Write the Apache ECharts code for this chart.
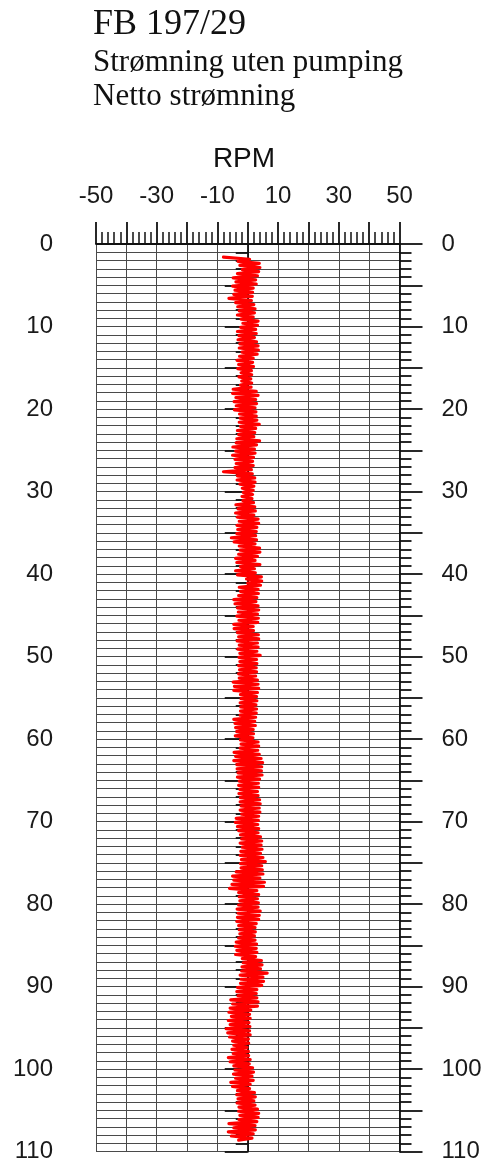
<!DOCTYPE html>
<html>
<head>
<meta charset="utf-8">
<script src="https://cdn.jsdelivr.net/npm/echarts@6/dist/echarts.min.js"></script>
<style>
html,body{margin:0;padding:0;background:#fff;}
#chart{width:488px;height:1164px;}
</style>
</head>
<body>
<div id="chart"></div>
<script>
// ---- texts ----
const titleLines = ["FB 197/29", "Strømning uten pumping", "Netto strømning"];
const xAxisName = "RPM";
const xTickLabels = [-50, -30, -10, 10, 30, 50];
const depthTickLabels = [0, 10, 20, 30, 40, 50, 60, 70, 80, 90, 100, 110];

// ---- data: RPM readings, depth (m) starts at depthStart, logged every depthStep ----
const depthStart = 1.6;
const depthStep = 0.25;
const rpm = [
  -8.0, 0.6, -3.2, 3.8, -2.6, 4.0, -1.8, 3.6, -3.4, 3.2, -4.8, 2.6, -3.9, 2.8, -5.0, 1.8, -4.2, 1.6, -4.6, 1.5,
  -6.2, 1.2, -4.0, 2.0, -3.3, 2.4, -2.8, 2.2, -3.4, 1.8, -2.2, 3.4, -1.6, 3.2, -2.3, 2.6, -3.4, 2.8, -2.9, 2.2,
  -3.2, 2.9, -2.6, 3.4, -2.8, 3.5, -1.9, 3.1, -2.7, 1.8, -3.5, 1.6, -3.0, 1.9, -3.3, 1.2, -2.2, 1.3, -2.9, 1.0,
  -2.0, 1.3, -2.4, 1.1, -4.8, 2.8, -5.0, 3.4, -3.9, 2.6, -4.5, 2.9, -3.8, 2.4, -4.4, 2.7, -2.7, 2.8, -2.5, 3.0,
  -2.8, 3.8, -2.4, 2.6, -3.4, 2.3, -3.0, 2.0, -3.6, 3.9, -3.8, 2.9, -4.9, 2.2, -4.0, 2.4, -5.0, 1.9, -4.2, 1.6,
  -3.8, 1.8, -4.2, 1.2, -8.0, 1.5, -3.4, 2.3, -3.5, 2.4, -2.6, 2.0, -1.8, 1.8, -1.5, 1.6, -1.9, 1.4, -1.6, 1.9,
  -3.9, 2.3, -3.2, 2.5, -4.0, 2.0, -3.4, 3.4, -2.8, 3.6, -3.5, 3.0, -3.3, 2.8, -3.6, 2.6, -5.4, 2.9, -4.5, 2.4,
  -2.8, 3.9, -2.5, 4.0, -3.0, 3.2, -4.0, 2.4, -3.6, 4.0, -2.4, 2.2, -4.0, 2.5, -3.4, 4.5, -0.4, 4.6, 0.0, 4.2,
  -2.8, 3.4, -2.4, 3.5, -3.0, 3.0, -4.6, 2.7, -4.2, 3.4, -3.4, 3.6, -3.1, 3.2, -3.6, 3.5, -2.9, 3.3, -4.6, 1.8,
  -4.5, 1.9, -3.4, 3.5, -3.0, 3.6, -3.5, 3.2, -2.8, 3.4, -3.3, 3.0, -2.6, 4.1, -2.9, 2.9, -2.6, 3.0, -3.0, 2.8,
  -2.7, 2.9, -3.0, 2.6, -2.8, 3.2, -4.8, 3.4, -4.4, 3.6, -4.6, 3.2, -2.4, 2.9, -2.2, 3.0, -2.5, 2.7, -2.3, 2.9,
  -2.4, 2.8, -2.5, 2.6, -4.6, 2.3, -4.2, 2.5, -4.0, 1.8, -3.6, 1.9, -4.1, 1.7, -2.4, 3.4, -2.2, 3.6, -2.5, 3.3,
  -4.5, 3.8, -4.0, 4.4, -4.6, 4.9, -3.6, 4.6, -3.5, 4.5, -3.2, 4.7, -3.4, 3.9, -2.8, 3.5, -3.0, 3.6, -2.6, 3.2,
  -2.9, 3.4, -2.4, 3.9, -2.5, 4.1, -2.2, 3.8, -2.5, 4.0, -2.0, 3.6, -3.8, 3.5, -4.1, 3.3, -3.4, 3.6, -3.0, 3.4,
  -2.4, 4.2, -2.0, 4.6, -2.5, 4.4, -1.8, 4.7, -2.3, 4.2, -2.5, 5.0, -2.1, 5.8, -2.4, 4.6, -2.2, 4.8, -3.8, 5.0,
  -5.0, 4.0, -4.6, 5.5, -5.2, 5.2, -6.0, 3.0, -3.0, 3.6, -2.8, 3.2, -2.6, 3.5, -3.0, 3.4, -3.5, 4.1, -3.2, 3.8,
  -3.4, 3.6, -3.6, 2.8, -3.0, 2.4, -2.8, 2.5, -2.6, 2.2, -3.0, 2.4, -3.8, 2.9, -4.1, 2.8, -3.6, 3.0, -4.0, 2.6,
  -1.8, 4.5, -1.5, 4.7, -1.9, 4.2, -2.0, 6.4, -2.5, 5.0, -2.2, 5.2, -2.4, 4.6, -3.4, 3.0, -3.6, 2.8, -3.2, 3.0,
  -5.6, 3.4, -5.0, 3.2, -5.8, 1.0, -6.2, 0.6, -5.4, 0.8, -6.4, 0.4, -5.8, 0.7, -7.1, 0.6, -6.6, 0.8, -6.0, 0.2,
  -5.0, 0.3, -4.6, -0.2, -5.2, 0.2, -4.8, 0.3, -6.4, 0.8, -5.8, 0.5, -4.6, 1.6, -4.2, 1.9, -4.7, 1.4, -4.0, 1.8,
  -5.6, 0.8, -5.0, 0.6, -3.4, 2.2, -3.6, 2.5, -3.2, 2.0, -3.5, 2.4, -2.9, 3.2, -3.0, 3.6, -2.6, 3.4, -2.9, 3.0,
  -6.2, 2.4, -4.6, 2.5, -6.4, 1.8, -5.4, 1.4, -3.0
];

const seriesData = rpm.map((v, i) => [v, +(depthStart + i * depthStep).toFixed(2)]);

const sans = "'Liberation Sans', Arial, sans-serif";
const serif = "'Liberation Serif', 'Times New Roman', serif";

const chart = echarts.init(document.getElementById('chart'), null, {renderer: 'canvas'});

const yAxisCommon = {
  type: 'value', inverse: true, min: 0, max: 110, interval: 5,
  axisLine: {show: true, lineStyle: {color: '#111', width: 1.8}},
  axisTick: {show: true, length: 23, lineStyle: {color: '#111', width: 1.8}},
  minorTick: {show: true, splitNumber: 5, length: 12, lineStyle: {color: '#111', width: 1.8}},
  axisLabel: {
    fontSize: 24, fontFamily: sans, color: '#1a1a1a', margin: 43,
    formatter: v => depthTickLabels.includes(v) ? String(v) : ''
  }
};

chart.setOption({
  animation: false,
  backgroundColor: '#fff',
  grid: {left: 96, top: 244, width: 303.5, height: 907.7, containLabel: false, outerBoundsMode: 'none'},
  graphic: [
    {type: 'text', style: {text: titleLines[0], x: 93, y: 25, font: `36px ${serif}`, fill: '#111', textAlign: 'left', textVerticalAlign: 'middle'}},
    {type: 'text', style: {text: titleLines[1], x: 93, y: 63, font: `31px ${serif}`, fill: '#111', textAlign: 'left', textVerticalAlign: 'middle'}},
    {type: 'text', style: {text: titleLines[2], x: 93, y: 97, font: `31px ${serif}`, fill: '#111', textAlign: 'left', textVerticalAlign: 'middle'}},
    {type: 'text', style: {text: xAxisName, x: 244, y: 159, font: `28px ${sans}`, fill: '#111', textAlign: 'center', textVerticalAlign: 'middle'}}
  ],
  xAxis: {
    type: 'value', position: 'top', min: -50, max: 50, interval: 10,
    axisLine: {show: true, lineStyle: {color: '#111', width: 1.8}},
    axisTick: {show: true, length: 22, lineStyle: {color: '#111', width: 1.8}},
    minorTick: {show: true, splitNumber: 5, length: 12, lineStyle: {color: '#111', width: 1.5}},
    splitLine: {show: true, lineStyle: {color: '#4a4a4a', width: 1}},
    axisLabel: {
      fontSize: 24, fontFamily: sans, color: '#1a1a1a', margin: 36,
      formatter: v => xTickLabels.includes(v) ? String(v) : ''
    }
  },
  yAxis: [
    Object.assign({}, yAxisCommon, {
      position: 'left',
      splitLine: {show: true, lineStyle: {color: '#4a4a4a', width: 1}},
      minorSplitLine: {show: true, lineStyle: {color: '#4a4a4a', width: 1}}
    }),
    Object.assign({}, yAxisCommon, {
      position: 'right',
      splitLine: {show: false},
      axisLabel: Object.assign({}, yAxisCommon.axisLabel, {margin: 42})
    })
  ],
  series: [{
    type: 'line',
    data: seriesData,
    xAxisIndex: 0, yAxisIndex: 0,
    showSymbol: false, symbol: 'none',
    lineStyle: {color: '#ff0000', width: 3.2, join: 'round', cap: 'round'},
    z: 5
  }]
});
</script>
</body>
</html>
